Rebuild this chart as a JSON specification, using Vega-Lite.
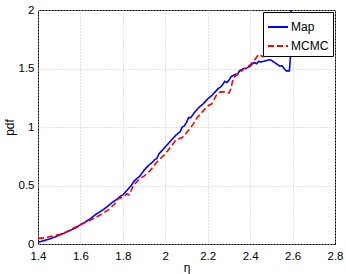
{
  "$schema": "https://vega.github.io/schema/vega-lite/v6.json",
  "autosize": {"type": "none"},
  "width": 297,
  "height": 234,
  "padding": {"left": 38, "top": 10, "right": 11, "bottom": 30},
  "background": "white",
  "config": {
    "font": "Liberation Sans",
    "view": {"stroke": "black", "strokeWidth": 1},
    "axis": {
      "labelFont": "Liberation Sans",
      "labelFontSize": 11.5,
      "labelColor": "black",
      "titleFont": "Liberation Sans",
      "titleFontSize": 12,
      "titleFontWeight": "normal",
      "titleColor": "black",
      "domain": false,
      "ticks": false,
      "grid": true,
      "gridColor": "#c4c4c4",
      "gridDash": [1, 2],
      "gridWidth": 1,
      "labelPadding": 4
    },
    "legend": {
      "labelFont": "Liberation Sans",
      "labelFontSize": 12,
      "labelColor": "black",
      "zindex": 2
    }
  },
  "data": {
    "values": [
      {"eta": 1.40, "pdf": 0.015, "series": "Map"},
      {"eta": 1.42, "pdf": 0.025, "series": "Map"},
      {"eta": 1.45, "pdf": 0.04, "series": "Map"},
      {"eta": 1.48, "pdf": 0.06, "series": "Map"},
      {"eta": 1.50, "pdf": 0.075, "series": "Map"},
      {"eta": 1.52, "pdf": 0.09, "series": "Map"},
      {"eta": 1.55, "pdf": 0.115, "series": "Map"},
      {"eta": 1.58, "pdf": 0.14, "series": "Map"},
      {"eta": 1.60, "pdf": 0.165, "series": "Map"},
      {"eta": 1.62, "pdf": 0.185, "series": "Map"},
      {"eta": 1.65, "pdf": 0.22, "series": "Map"},
      {"eta": 1.67, "pdf": 0.25, "series": "Map"},
      {"eta": 1.70, "pdf": 0.285, "series": "Map"},
      {"eta": 1.72, "pdf": 0.31, "series": "Map"},
      {"eta": 1.75, "pdf": 0.355, "series": "Map"},
      {"eta": 1.77, "pdf": 0.38, "series": "Map"},
      {"eta": 1.79, "pdf": 0.41, "series": "Map"},
      {"eta": 1.80, "pdf": 0.42, "series": "Map"},
      {"eta": 1.82, "pdf": 0.46, "series": "Map"},
      {"eta": 1.84, "pdf": 0.50, "series": "Map"},
      {"eta": 1.85, "pdf": 0.53, "series": "Map"},
      {"eta": 1.86, "pdf": 0.55, "series": "Map"},
      {"eta": 1.88, "pdf": 0.58, "series": "Map"},
      {"eta": 1.90, "pdf": 0.63, "series": "Map"},
      {"eta": 1.92, "pdf": 0.67, "series": "Map"},
      {"eta": 1.94, "pdf": 0.70, "series": "Map"},
      {"eta": 1.95, "pdf": 0.72, "series": "Map"},
      {"eta": 1.96, "pdf": 0.73, "series": "Map"},
      {"eta": 1.97, "pdf": 0.77, "series": "Map"},
      {"eta": 2.00, "pdf": 0.83, "series": "Map"},
      {"eta": 2.02, "pdf": 0.87, "series": "Map"},
      {"eta": 2.05, "pdf": 0.93, "series": "Map"},
      {"eta": 2.07, "pdf": 0.96, "series": "Map"},
      {"eta": 2.08, "pdf": 1.00, "series": "Map"},
      {"eta": 2.09, "pdf": 1.01, "series": "Map"},
      {"eta": 2.10, "pdf": 1.04, "series": "Map"},
      {"eta": 2.11, "pdf": 1.08, "series": "Map"},
      {"eta": 2.12, "pdf": 1.08, "series": "Map"},
      {"eta": 2.14, "pdf": 1.13, "series": "Map"},
      {"eta": 2.16, "pdf": 1.17, "series": "Map"},
      {"eta": 2.18, "pdf": 1.20, "series": "Map"},
      {"eta": 2.20, "pdf": 1.24, "series": "Map"},
      {"eta": 2.22, "pdf": 1.27, "series": "Map"},
      {"eta": 2.24, "pdf": 1.31, "series": "Map"},
      {"eta": 2.25, "pdf": 1.33, "series": "Map"},
      {"eta": 2.26, "pdf": 1.34, "series": "Map"},
      {"eta": 2.27, "pdf": 1.36, "series": "Map"},
      {"eta": 2.28, "pdf": 1.39, "series": "Map"},
      {"eta": 2.29, "pdf": 1.38, "series": "Map"},
      {"eta": 2.30, "pdf": 1.40, "series": "Map"},
      {"eta": 2.31, "pdf": 1.43, "series": "Map"},
      {"eta": 2.32, "pdf": 1.44, "series": "Map"},
      {"eta": 2.33, "pdf": 1.45, "series": "Map"},
      {"eta": 2.34, "pdf": 1.45, "series": "Map"},
      {"eta": 2.35, "pdf": 1.48, "series": "Map"},
      {"eta": 2.36, "pdf": 1.49, "series": "Map"},
      {"eta": 2.37, "pdf": 1.50, "series": "Map"},
      {"eta": 2.38, "pdf": 1.50, "series": "Map"},
      {"eta": 2.40, "pdf": 1.52, "series": "Map"},
      {"eta": 2.41, "pdf": 1.54, "series": "Map"},
      {"eta": 2.42, "pdf": 1.55, "series": "Map"},
      {"eta": 2.43, "pdf": 1.54, "series": "Map"},
      {"eta": 2.44, "pdf": 1.56, "series": "Map"},
      {"eta": 2.45, "pdf": 1.555, "series": "Map"},
      {"eta": 2.47, "pdf": 1.565, "series": "Map"},
      {"eta": 2.49, "pdf": 1.575, "series": "Map"},
      {"eta": 2.50, "pdf": 1.57, "series": "Map"},
      {"eta": 2.52, "pdf": 1.545, "series": "Map"},
      {"eta": 2.54, "pdf": 1.52, "series": "Map"},
      {"eta": 2.55, "pdf": 1.525, "series": "Map"},
      {"eta": 2.56, "pdf": 1.50, "series": "Map"},
      {"eta": 2.57, "pdf": 1.48, "series": "Map"},
      {"eta": 2.585, "pdf": 1.48, "series": "Map"},
      {"eta": 2.59, "pdf": 1.60, "series": "Map"},
      {"eta": 2.595, "pdf": 2.3, "series": "Map"},
      {"eta": 1.40, "pdf": 0.05, "series": "MCMC"},
      {"eta": 1.43, "pdf": 0.05, "series": "MCMC"},
      {"eta": 1.46, "pdf": 0.065, "series": "MCMC"},
      {"eta": 1.50, "pdf": 0.08, "series": "MCMC"},
      {"eta": 1.53, "pdf": 0.10, "series": "MCMC"},
      {"eta": 1.56, "pdf": 0.13, "series": "MCMC"},
      {"eta": 1.60, "pdf": 0.165, "series": "MCMC"},
      {"eta": 1.63, "pdf": 0.19, "series": "MCMC"},
      {"eta": 1.66, "pdf": 0.215, "series": "MCMC"},
      {"eta": 1.70, "pdf": 0.255, "series": "MCMC"},
      {"eta": 1.73, "pdf": 0.29, "series": "MCMC"},
      {"eta": 1.76, "pdf": 0.34, "series": "MCMC"},
      {"eta": 1.78, "pdf": 0.39, "series": "MCMC"},
      {"eta": 1.80, "pdf": 0.40, "series": "MCMC"},
      {"eta": 1.82, "pdf": 0.43, "series": "MCMC"},
      {"eta": 1.83, "pdf": 0.42, "series": "MCMC"},
      {"eta": 1.85, "pdf": 0.50, "series": "MCMC"},
      {"eta": 1.88, "pdf": 0.56, "series": "MCMC"},
      {"eta": 1.90, "pdf": 0.58, "series": "MCMC"},
      {"eta": 1.93, "pdf": 0.63, "series": "MCMC"},
      {"eta": 1.96, "pdf": 0.70, "series": "MCMC"},
      {"eta": 2.00, "pdf": 0.77, "series": "MCMC"},
      {"eta": 2.03, "pdf": 0.84, "series": "MCMC"},
      {"eta": 2.05, "pdf": 0.89, "series": "MCMC"},
      {"eta": 2.08, "pdf": 0.91, "series": "MCMC"},
      {"eta": 2.10, "pdf": 0.95, "series": "MCMC"},
      {"eta": 2.13, "pdf": 1.02, "series": "MCMC"},
      {"eta": 2.15, "pdf": 1.08, "series": "MCMC"},
      {"eta": 2.18, "pdf": 1.14, "series": "MCMC"},
      {"eta": 2.20, "pdf": 1.18, "series": "MCMC"},
      {"eta": 2.22, "pdf": 1.20, "series": "MCMC"},
      {"eta": 2.24, "pdf": 1.27, "series": "MCMC"},
      {"eta": 2.26, "pdf": 1.30, "series": "MCMC"},
      {"eta": 2.28, "pdf": 1.30, "series": "MCMC"},
      {"eta": 2.30, "pdf": 1.29, "series": "MCMC"},
      {"eta": 2.31, "pdf": 1.33, "series": "MCMC"},
      {"eta": 2.32, "pdf": 1.42, "series": "MCMC"},
      {"eta": 2.34, "pdf": 1.45, "series": "MCMC"},
      {"eta": 2.36, "pdf": 1.48, "series": "MCMC"},
      {"eta": 2.38, "pdf": 1.51, "series": "MCMC"},
      {"eta": 2.40, "pdf": 1.53, "series": "MCMC"},
      {"eta": 2.42, "pdf": 1.57, "series": "MCMC"},
      {"eta": 2.44, "pdf": 1.62, "series": "MCMC"},
      {"eta": 2.46, "pdf": 1.60, "series": "MCMC"},
      {"eta": 2.48, "pdf": 1.66, "series": "MCMC"},
      {"eta": 2.50, "pdf": 1.68, "series": "MCMC"},
      {"eta": 2.53, "pdf": 1.72, "series": "MCMC"},
      {"eta": 2.56, "pdf": 1.76, "series": "MCMC"},
      {"eta": 2.60, "pdf": 1.80, "series": "MCMC"}
    ]
  },
  "mark": {"type": "line", "clip": true, "strokeWidth": 1.6},
  "encoding": {
    "x": {
      "field": "eta", "type": "quantitative", "title": "η",
      "scale": {"domain": [1.4, 2.8], "nice": false, "zero": false},
      "axis": {"values": [1.4, 1.6, 1.8, 2.0, 2.2, 2.4, 2.6, 2.8], "format": "~g", "titlePadding": 1, "labelPadding": 6, "labelFlush": false}
    },
    "y": {
      "field": "pdf", "type": "quantitative", "title": "pdf",
      "scale": {"domain": [0, 2], "nice": false},
      "axis": {"values": [0, 0.5, 1, 1.5, 2], "format": "~g", "titlePadding": 2, "labelPadding": 4, "labelFlush": false}
    },
    "color": {
      "field": "series", "type": "nominal",
      "scale": {"domain": ["Map", "MCMC"], "range": ["#0000ff", "#ff0000"]},
      "legend": {
        "title": null, "orient": "top-right", "offset": 2,
        "fillColor": "white", "strokeColor": "black", "padding": 4,
        "symbolType": "stroke", "symbolSize": 400, "symbolStrokeWidth": 2,
        "rowPadding": 2, "labelOffset": 2, "zindex": 2
      }
    },
    "strokeDash": {
      "field": "series", "type": "nominal",
      "scale": {"domain": ["Map", "MCMC"], "range": [[1, 0], [6, 3]]},
      "legend": {
        "title": null, "orient": "top-right", "offset": 2,
        "fillColor": "white", "strokeColor": "black", "padding": 4,
        "symbolType": "stroke", "symbolSize": 400, "symbolStrokeWidth": 2,
        "rowPadding": 2, "labelOffset": 2, "zindex": 2
      }
    }
  }
}
